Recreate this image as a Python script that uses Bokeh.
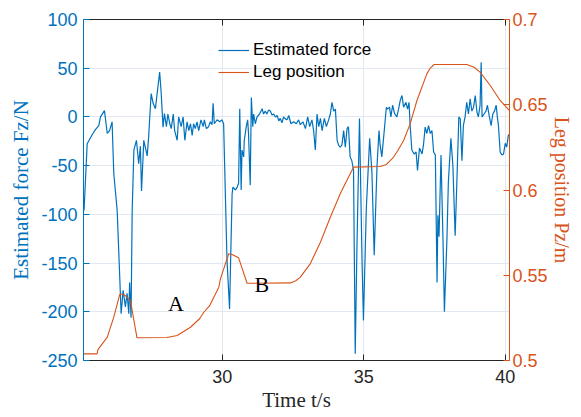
from bokeh.plotting import figure
from bokeh.models import (Range1d, LinearAxis, FixedTicker, CustomJSTickFormatter,
                          Legend, LegendItem, ColumnDataSource)
from bokeh.core.properties import value
from bokeh.embed import file_html
from bokeh.resources import INLINE

# ---------------- data ----------------
force_t = [25.12, 25.23, 25.41, 25.52, 25.64, 25.70, 25.84, 25.94, 26.02, 26.11, 26.17, 26.29,
           26.43, 26.50, 26.58, 26.64, 26.70, 26.73, 26.78, 26.82, 26.88, 26.97, 27.05, 27.11,
           27.15, 27.23, 27.35, 27.40, 27.49, 27.56, 27.64, 27.79, 27.84, 27.91, 27.96, 28.03,
           28.08, 28.15, 28.20, 28.27, 28.32, 28.41, 28.46, 28.55, 28.62, 28.68, 28.76, 28.82,
           28.88, 28.94, 28.99, 29.05, 29.11, 29.17, 29.25, 29.33, 29.37, 29.44, 29.52, 29.58,
           29.64, 29.68, 29.72, 29.82, 29.91, 29.99, 30.05, 30.17, 30.26, 30.35, 30.38, 30.47,
           30.53, 30.58, 30.62, 30.67, 30.70, 30.76, 30.78, 30.85, 30.90, 30.93, 30.99, 31.03,
           31.08, 31.11, 31.17, 31.23, 31.32, 31.41, 31.46, 31.52, 31.58, 31.64, 31.70, 31.76,
           31.82, 31.88, 31.94, 32.00, 32.05, 32.11, 32.17, 32.23, 32.29, 32.35, 32.43, 32.52,
           32.62, 32.70, 32.76, 32.85, 32.94, 33.02, 33.09, 33.17, 33.23, 33.29, 33.35, 33.41,
           33.47, 33.53, 33.61, 33.68, 33.76, 33.82, 33.88, 33.94, 34.00, 34.06, 34.11, 34.17,
           34.23, 34.29, 34.35, 34.41, 34.46, 34.52, 34.58, 34.64, 34.70, 34.76, 34.85, 34.94,
           34.99, 35.09, 35.21, 35.29, 35.37, 35.47, 35.54, 35.58, 35.64, 35.70, 35.80, 35.84,
           35.91, 35.96, 36.02, 36.09, 36.17, 36.23, 36.29, 36.35, 36.41, 36.49, 36.55, 36.60,
           36.64, 36.70, 36.78, 36.85, 36.90, 36.97, 37.06, 37.11, 37.17, 37.23, 37.29, 37.35,
           37.41, 37.47, 37.53, 37.59, 37.62, 37.66, 37.73, 37.80, 37.85, 37.94, 37.99, 38.08,
           38.15, 38.23, 38.29, 38.36, 38.41, 38.47, 38.52, 38.58, 38.64, 38.70, 38.76, 38.82,
           38.88, 38.94, 39.00, 39.05, 39.11, 39.15, 39.18, 39.25, 39.32, 39.37, 39.44, 39.50,
           39.56, 39.62, 39.68, 39.72, 39.76, 39.82, 39.88, 39.94, 40.00, 40.05, 40.11, 40.17]
force_n = [-96, -27.5, -18, -13, -9, 0, 6.5, -17, -14, -5, -58, -96,
           -202, -178, -195, -181, -202, -170, -206, -96, -34, -24, -48, -30,
           -76, -24, -40, -21, 24, 14, 8.5, 46, 27, -10.5, 3.5, -10,
           3, -7, -12, 3, -14, -24, 0, -10, 0, -24, -5, -14,
           -7, -19, -7, -12, -5, -14, -3, -10, -3, -12, -10, -5,
           -8, 14, -7, -3, -5, -3, -7, -147, -197, -79, -72, -75,
           -72, -68, 8.5, -75, -34, -41, -24, -10, -3, -17, -70, 20,
           -10, 3, -7, 0, 3, 8.5, 3, 6, 3, 7, 6, 2,
           3, 0, 1.5, -4, -1.5, -6, 0, -2, -3, 1.5, -7, -5,
           -7, -3, -8, -5, -12, 0, -10, -3, -14, -34, 3, -10,
           -1.5, -14, -1.5, -10, -3, 3, 15, 6, 8, -24, -29, -31,
           -29, -14, -31, -12, -10, -41, -45, -55, -243, -134, -1.5, -147,
           -209, -95, -22, -57, -142, -50, -14, -29, -41, -22, 10, 8,
           10, 0, 12, 3.5, 0, 8, 17, 22, 10, 15, 8, 15,
           -9, -34, -38, -36, -55, -32, -38, -29, -10.5, -17, -9, -17,
           -14, -36, -39, -170, -101, -123, -39, -125, -200, -125, -67, -22,
           -50, -122, -67, 0, -2, -45, -9, 0, 15, 3, 18.5, 6,
           10, 22, 5, 0, 12, 56, 0, 3, 6, 12, 0, -9,
           3, 6, 12, 0, -9, -36, -39, -38, -27, -31, -19, -17]

pos_t = [25.10, 25.58, 25.61, 25.94, 26.17, 26.38, 26.48, 26.58, 26.76, 26.99, 28.05, 28.41,
         28.88, 29.20, 29.35, 29.55, 29.70, 29.88, 29.94, 30.23, 30.35, 30.58, 30.88, 32.41,
         32.60, 32.76, 33.11, 33.47, 33.82, 34.17, 34.46, 34.64, 35.58, 35.80, 36.05, 36.20,
         36.41, 36.64, 36.88, 37.23, 37.35, 37.49, 38.64, 38.90, 39.11, 39.47, 39.82, 40.15]
pos_m = [0.5039, 0.5039, 0.5064, 0.5137, 0.5254, 0.5387, 0.5390, 0.5380, 0.5350, 0.5133, 0.5135, 0.5147,
         0.5195, 0.5245, 0.5283, 0.5320, 0.5370, 0.5430, 0.5480, 0.5626, 0.5622, 0.5602, 0.5453, 0.5455,
         0.5468, 0.5489, 0.5567, 0.5694, 0.5840, 0.5978, 0.6075, 0.6134, 0.6138, 0.6150, 0.6192, 0.6230,
         0.6290, 0.6388, 0.6525, 0.6681, 0.6715, 0.6736, 0.6736, 0.6720, 0.6691, 0.6613, 0.6525, 0.6466]

x_ticks = [30, 35, 40]
force_ticks = [-250, -200, -150, -100, -50, 0, 50, 100]
pos_ticks = [0.5, 0.55, 0.6, 0.65, 0.7]

note_text = ["A", "B"]
note_t = [28.37, 31.40]
note_f = [-191, -172]

# ---------------- styling ----------------
BLUE = "#0072BD"
ORANGE = "#D95319"
DARK = "#262626"
SANS = "Liberation Sans"
SERIF = "Liberation Serif"

p = figure(width=581, height=417, output_backend="svg", toolbar_location=None,
           x_range=Range1d(25.1, 40.15), y_range=Range1d(-250, 100),
           min_border_left=83, min_border_right=72, min_border_top=19, min_border_bottom=57,
           x_axis_label="Time t/s", y_axis_label="Estimated force Fz/N")
p.extra_y_ranges = {"pos": Range1d(0.5, 0.7)}
p.outline_line_color = None
p.background_fill_color = "white"

def style_axis(ax, color, ticks):
    ax.ticker = FixedTicker(ticks=ticks)
    ax.axis_line_color = color
    ax.axis_line_width = 1
    ax.major_tick_line_color = color
    ax.major_tick_in = 6
    ax.major_tick_out = 0
    ax.minor_tick_line_color = None
    ax.major_label_text_color = color
    ax.major_label_text_font = SANS
    ax.major_label_text_font_size = "18px"
    ax.axis_label_text_color = color
    ax.axis_label_text_font = SERIF
    ax.axis_label_text_font_size = "21px"
    ax.axis_label_text_font_style = "normal"

xa = p.xaxis[0]
style_axis(xa, DARK, x_ticks)
xa.major_label_standoff = 9
xa.axis_label_standoff = 2

ya = p.yaxis[0]
style_axis(ya, BLUE, force_ticks)
ya.formatter = CustomJSTickFormatter(code="return Math.round(tick).toString();")
ya.major_label_standoff = 6
ya.axis_label_standoff = 5

ra = LinearAxis(y_range_name="pos", axis_label="Leg position Pz/m")
style_axis(ra, ORANGE, pos_ticks)
ra.formatter = CustomJSTickFormatter(code="return (Math.round(tick*100)/100).toString();")
ra.major_label_standoff = 3
ra.axis_label_standoff = 0
ra.axis_label_text_font_size = "20px"
p.add_layout(ra, "right")

ta = LinearAxis()
style_axis(ta, DARK, x_ticks)
ta.formatter = CustomJSTickFormatter(code="return '';")
ta.major_label_text_font_size = "1px"
ta.major_label_standoff = 0
ta.axis_label = None
p.add_layout(ta, "above")

p.xgrid.ticker = FixedTicker(ticks=x_ticks)
p.ygrid.ticker = FixedTicker(ticks=force_ticks)
for g in (p.xgrid[0], p.ygrid[0]):
    g.grid_line_color = "#e2e8ef"
    g.grid_line_width = 1

fsrc = ColumnDataSource(dict(t=force_t, f=force_n))
psrc = ColumnDataSource(dict(t=pos_t, m=pos_m))
r_force = p.line("t", "f", source=fsrc, line_color=BLUE, line_width=1.2)
r_pos = p.line("t", "m", source=psrc, line_color=ORANGE, line_width=1.1, y_range_name="pos")

p.text(x=note_t, y=note_f, text=note_text, text_font=value(SERIF), text_font_size="22px",
       text_color="black", text_align="center", text_baseline="middle")

legend = Legend(items=[LegendItem(label="Estimated force", renderers=[r_force]),
                       LegendItem(label="Leg position", renderers=[r_pos])],
                location=(135, 278), orientation="vertical",
                background_fill_alpha=0, border_line_alpha=0,
                padding=0, margin=0, spacing=2, glyph_width=31, glyph_height=20,
                label_height=20, label_standoff=4,
                label_text_font=SANS, label_text_font_size="17px", label_text_color="black")
p.add_layout(legend, "center")

open("out.html", "w").write(file_html(p, INLINE))
